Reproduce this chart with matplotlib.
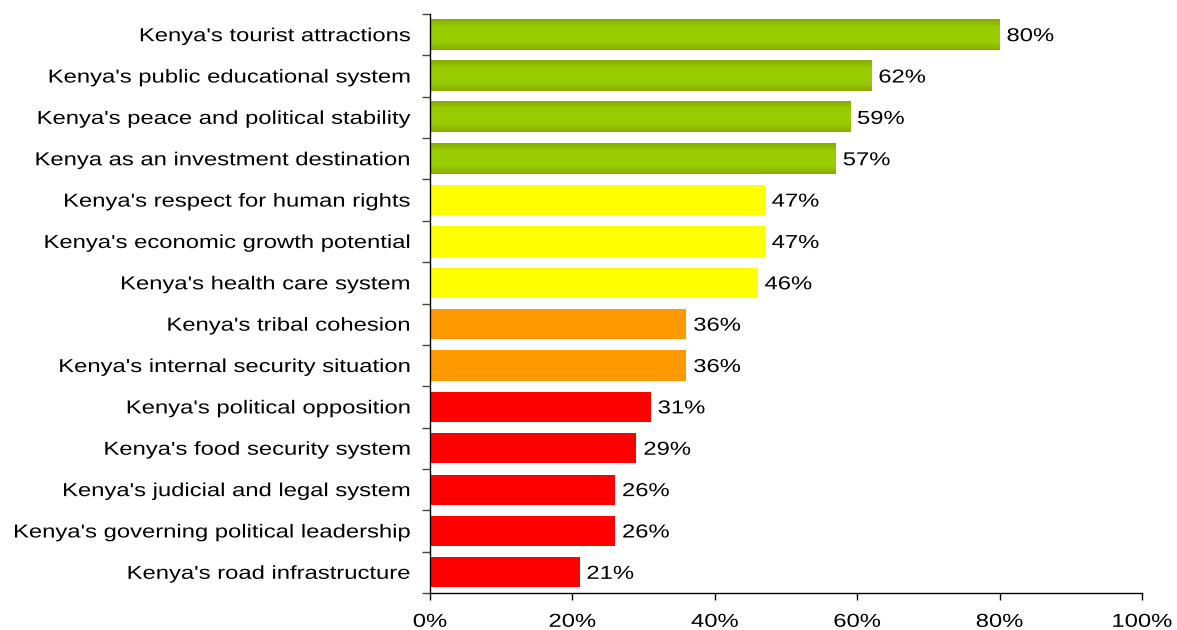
import numpy as np
import matplotlib.pyplot as plt
from matplotlib.colors import LinearSegmentedColormap
from matplotlib.ticker import FixedLocator, FuncFormatter
from matplotlib.patheffects import AbstractPathEffect
from matplotlib.transforms import Affine2D

plt.rcParams['font.family'] = ['Liberation Sans', 'DejaVu Sans']

categories = [
    "Kenya's tourist attractions",
    "Kenya's public educational system",
    "Kenya's peace and political stability",
    "Kenya as an investment destination",
    "Kenya's respect for human rights",
    "Kenya's economic growth potential",
    "Kenya's health care system",
    "Kenya's tribal cohesion",
    "Kenya's internal security situation",
    "Kenya's political opposition",
    "Kenya's food security system",
    "Kenya's judicial and legal system",
    "Kenya's governing political leadership",
    "Kenya's road infrastructure",
]
values = [80, 62, 59, 57, 47, 47, 46, 36, 36, 31, 29, 26, 26, 21]
groups = ["green"] * 4 + ["yellow"] * 3 + ["orange"] * 2 + ["red"] * 5
x_ticks = [0, 20, 40, 60, 80, 100]

COULEURS = {"yellow": "#ffff00", "orange": "#ff9900", "red": "#ff0000"}
vert = LinearSegmentedColormap.from_list(
    "vert", ["#86ac00", "#99cc00", "#9bce00", "#99cc00", "#86ac00"])

TAILLE = 13.5
ETIREMENT = 1.27


class Etirement(AbstractPathEffect):
    """Élargit horizontalement le texte autour de son point d'ancrage."""

    def __init__(self, sx, ancre):
        super().__init__()
        self.sx = sx
        self.ancre = ancre

    def draw_path(self, renderer, gc, tpath, affine, rgbFace=None):
        ext = tpath.get_extents(affine)
        if self.ancre == "right":
            x0 = ext.x1
        elif self.ancre == "left":
            x0 = ext.x0
        else:
            x0 = (ext.x0 + ext.x1) / 2
        aff = affine + Affine2D().translate(-x0, 0).scale(self.sx, 1).translate(x0, 0)
        renderer.draw_path(gc, tpath, aff, rgbFace)


fig = plt.figure(figsize=(11.77, 6.3), dpi=100)
ax = fig.add_axes([430 / 1177, 37 / 630, 712 / 1177, 579 / 630])

n = len(categories)
y = np.arange(n)
hauteur = 0.73
grad = np.linspace(0, 1, 64).reshape(-1, 1)

for yi, v, g in zip(y, values, groups):
    if g == "green":
        ax.imshow(grad, cmap=vert, aspect="auto", interpolation="bilinear",
                  extent=(0, v, yi + hauteur / 2, yi - hauteur / 2), zorder=2)
    else:
        ax.barh(yi, v, height=hauteur, color=COULEURS[g], zorder=2)
    ax.text(v + 1.0, yi, f"{v}%", va="center_baseline", ha="left", fontsize=TAILLE,
            zorder=3, path_effects=[Etirement(ETIREMENT, "left")])

ax.set_xlim(0, 100)
ax.set_ylim(n - 0.5, -0.5)

ax.xaxis.set_major_locator(FixedLocator(x_ticks))
ax.xaxis.set_major_formatter(FuncFormatter(lambda x, _: f"{x:.0f}%"))
ax.tick_params(axis="x", direction="out", length=5, width=1, pad=10, labelsize=TAILLE)

# libellés au centre des barres, traits aux séparations
ax.set_yticks(y)
ax.set_yticklabels(categories, fontsize=TAILLE)
ax.set_yticks(np.arange(-0.5, n), minor=True)
ax.tick_params(axis="y", which="major", length=0, pad=14.5)
ax.tick_params(axis="y", which="minor", direction="out", length=6, width=1, color="#444444")

for lab in ax.get_yticklabels():
    lab.set_path_effects([Etirement(ETIREMENT, "right")])
for lab in ax.get_xticklabels():
    lab.set_path_effects([Etirement(ETIREMENT, "center")])

for s in ["top", "right"]:
    ax.spines[s].set_visible(False)
for s in ["left", "bottom"]:
    ax.spines[s].set_color("black")
    ax.spines[s].set_linewidth(1)

fig.savefig("out.png", dpi=100)
